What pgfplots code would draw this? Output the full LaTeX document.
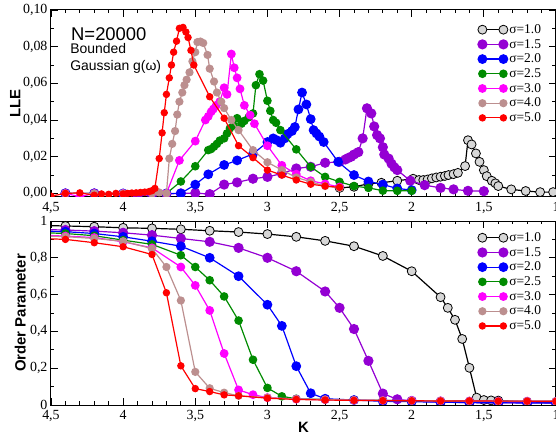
\documentclass[border=0pt]{standalone}
\usepackage{fontspec}
\setmainfont{Liberation Serif}
\setsansfont{Liberation Sans}
\usepackage{pgfplots}
\pgfplotsset{compat=1.18}
\definecolor{cgray}{RGB}{215,215,215}
\definecolor{cpurp}{RGB}{148,0,211}
\definecolor{cblue}{RGB}{0,0,255}
\definecolor{cgreen}{RGB}{0,139,0}
\definecolor{cmag}{RGB}{255,0,255}
\definecolor{cbrown}{RGB}{188,143,143}
\definecolor{cred}{RGB}{255,0,0}
\pgfplotsset{
  common/.style={
    scale only axis, width=505bp,
    xmin=1, xmax=4.5, x dir=reverse,
    xtick={1,1.5,...,4.5}, minor x tick num=4,
    major tick length=7bp, minor tick length=3.5bp,
    tick align=inside, tick style={black, line width=0.8pt},
    axis line style={line width=1pt},
    /pgf/number format/assume math mode=true,
    /pgf/number format/use comma, /pgf/number format/1000 sep={},
    tick label style={font=\fontsize{14}{16}\selectfont},
    xticklabel style={yshift=-2bp},
    clip marker paths=true,
    every axis plot/.append style={line width=1.2pt},
    legend cell align=left,
    legend style={draw=none, fill=none, font=\fontsize{13.5}{15}\selectfont, inner sep=0pt, row sep=0pt, anchor=north west,
      nodes={inner sep=1.5bp, text height=9.5bp, text depth=2.2bp}},
    legend image code/.code={\draw[mark repeat=1,mark phase=1,#1] plot coordinates {(0bp,0bp) (21bp,0bp)};},
  },
  sg/.style={black, mark=*, mark size=4.5pt, mark options={fill=cgray, draw=black, line width=0.8pt}},
  sp/.style={cpurp, mark=*, mark size=4.5pt, mark options={fill=cpurp}},
  sb/.style={cblue, mark=*, mark size=4.3pt, mark options={fill=cblue}},
  sgr/.style={cgreen, mark=*, mark size=3.7pt, mark options={fill=cgreen}},
  sm/.style={cmag, mark=*, mark size=3.8pt, mark options={fill=cmag}},
  sbr/.style={cbrown, mark=*, mark size=3.5pt, mark options={fill=cbrown}},
  sr/.style={cred, mark=*, mark size=3.1pt, mark options={fill=cred}},
}
\begin{document}
\begin{tikzpicture}
\begin{axis}[common, name=top, at={(51bp,241.3bp)}, anchor=south west, height=186.7bp,
  ymin=-0.0018, ymax=0.1, ytick={0,0.02,...,0.1}, minor y tick num=1,
  yticklabel style={/pgf/number format/fixed, /pgf/number format/fixed zerofill, /pgf/number format/precision=2},
  ylabel={\sffamily\bfseries LLE}, ylabel style={font=\fontsize{15}{17}\selectfont, at={(axis description cs:-0.071,0.5)}, anchor=center},
  legend style={at={(axis description cs:0.845,0.935)}},
]
\addplot[sg] coordinates {
(2.5,0.0030)(2.4,0.0036)(2.3,0.0052)(2.21,0.0058)(2.10,0.0069)(1.99,0.0080)(1.95,0.0073)(1.92,0.0073)(1.89,0.0076)(1.86,0.0082)(1.83,0.0087)(1.80,0.0091)(1.77,0.0095)(1.745,0.0100)(1.71,0.0105)(1.68,0.0112)(1.63,0.0149)(1.61,0.0290)(1.585,0.0267)(1.555,0.0218)(1.53,0.0172)(1.50,0.0127)(1.48,0.0094)(1.445,0.0069)(1.42,0.0055)(1.40,0.0040)(1.31,0.0022)(1.21,0.0013)(1.11,0.0007)(1.02,0.0007)(0.95,0.0006)
};
\addlegendentry{σ=1.0}
\addplot[sp] coordinates {
(4.4,0.0)(4.2,0.0)(4.0,-0.0005)(3.9,-0.0012)(3.8,-0.0008)(3.7,-0.0003)(3.6,0.0)(3.5,0.0002)(3.4,-0.0004)(3.3,0.0048)(3.21,0.0060)(3.10,0.0080)(3.0,0.0090)(2.9,0.0108)(2.8,0.0136)(2.7,0.0145)(2.6,0.0167)(2.5,0.0172)(2.46,0.0185)(2.44,0.0193)(2.42,0.0200)(2.40,0.0212)(2.37,0.0225)(2.34,0.0300)(2.31,0.0464)(2.28,0.0436)(2.26,0.0365)(2.24,0.0318)(2.22,0.0300)(2.20,0.0252)(2.19,0.0212)(2.16,0.0190)(2.14,0.0162)(2.12,0.0142)(2.10,0.0127)(2.01,0.0069)(1.91,0.0045)(1.80,0.0030)(1.71,0.0022)(1.61,0.0014)(1.50,0.0012)
};
\addlegendentry{σ=1.5}
\addplot[sb] coordinates {
(4.4,0.0)(4.2,0.0)(4.0,0.0)(3.8,0.0)(3.7,0.0)(3.6,0.0)(3.5,0.0048)(3.41,0.0104)(3.30,0.0155)(3.21,0.0180)(3.10,0.0215)(3.0,0.0280)(2.96,0.0300)(2.94,0.0292)(2.91,0.0276)(2.88,0.0300)(2.86,0.0324)(2.83,0.0340)(2.81,0.0362)(2.785,0.0458)(2.76,0.0550)(2.73,0.0485)(2.70,0.0405)(2.68,0.0345)(2.66,0.0327)(2.64,0.0310)(2.61,0.0280)(2.51,0.0172)(2.40,0.0100)(2.30,0.0065)(2.20,0.0048)(2.10,0.0027)(2.0,0.0018)
};
\addlegendentry{σ=2.0}
\addplot[sgr] coordinates {
(4.4,0.0)(4.2,0.0)(4.0,0.0)(3.8,0.0)(3.7,0.0)(3.6,0.0065)(3.5,0.0148)(3.41,0.0236)(3.39,0.0242)(3.37,0.0255)(3.35,0.0270)(3.33,0.0288)(3.30,0.0300)(3.28,0.0327)(3.26,0.0355)(3.235,0.0370)(3.21,0.0410)(3.18,0.0380)(3.16,0.0395)(3.13,0.0415)(3.10,0.0436)(3.08,0.0590)(3.055,0.0650)(3.03,0.0615)(3.0,0.0505)(2.98,0.0450)(2.96,0.0400)(2.94,0.0385)(2.91,0.0345)(2.8,0.0240)(2.7,0.0145)(2.6,0.0090)(2.5,0.0063)(2.4,0.0040)(2.3,0.0030)(2.2,0.0015)(2.1,0.0014)(2.0,0.0014)
};
\addlegendentry{σ=2.5}
\addplot[sm] coordinates {
(4.4,0.0)(4.3,-0.0018)(4.2,0.0)(4.0,0.0)(3.8,0.0)(3.7,0.0)(3.61,0.0180)(3.50,0.0285)(3.43,0.0400)(3.41,0.0420)(3.39,0.0445)(3.375,0.0460)(3.355,0.0480)(3.33,0.0500)(3.30,0.0576)(3.28,0.0540)(3.25,0.0760)(3.23,0.0685)(3.21,0.0630)(3.19,0.0570)(3.16,0.0480)(3.12,0.0427)(3.09,0.0380)(3.0,0.0260)(2.9,0.0153)(2.8,0.0105)(2.7,0.0069)(2.6,0.0052)(2.5,0.0035)
};
\addlegendentry{σ=3.0}
\addplot[sbr] coordinates {
(4.4,0.0)(4.2,0.0)(4.0,0.0)(3.8,0.0)(3.75,0.0005)(3.70,0.0)(3.68,0.0190)(3.66,0.0270)(3.64,0.0340)(3.625,0.0430)(3.61,0.0500)(3.59,0.0550)(3.575,0.0590)(3.56,0.0620)(3.54,0.0660)(3.52,0.0720)(3.50,0.0770)(3.485,0.0825)(3.465,0.0828)(3.445,0.0820)(3.415,0.0755)(3.40,0.0680)(3.37,0.0610)(3.35,0.0550)(3.32,0.0500)(3.30,0.0465)(3.25,0.0400)(3.20,0.0345)(3.10,0.0236)(3.0,0.0170)(2.9,0.0127)(2.8,0.0087)(2.7,0.0063)(2.6,0.0040)(2.5,0.0030)
};
\addlegendentry{σ=4.0}
\addplot[sr] coordinates {
(4.5,-0.0015)(4.4,0.0)(4.3,0.0003)(4.2,-0.0010)(4.15,-0.0003)(4.10,-0.0005)(4.05,0.0)(4.00,-0.0003)(3.97,0.0)(3.94,0.0002)(3.91,0.0003)(3.88,0.0005)(3.85,0.0007)(3.82,0.0010)(3.80,0.0015)(3.78,0.0027)(3.75,0.0190)(3.73,0.0330)(3.715,0.0440)(3.70,0.0540)(3.68,0.0630)(3.665,0.0700)(3.65,0.0770)(3.63,0.0830)(3.61,0.0900)(3.585,0.0905)(3.565,0.0880)(3.55,0.0850)(3.53,0.0780)(3.51,0.0700)(3.40,0.0527)(3.30,0.0410)(3.20,0.0260)(3.10,0.0195)(3.00,0.0127)(2.90,0.0100)(2.80,0.0073)(2.70,0.0050)(2.60,0.0040)(2.50,0.0033)
};
\addlegendentry{σ=5.0}
\node[anchor=west, font=\sffamily\fontsize{18.5}{20}\selectfont] at (axis description cs:0.033,0.872) {N=20000};
\node[anchor=north west, align=left, font=\sffamily\fontsize{14}{17}\selectfont, inner sep=0pt] at (axis description cs:0.038,0.82) {Bounded\\Gaussian g(ω)};
\end{axis}
\begin{axis}[common, name=bot, at={(51bp,33bp)}, anchor=south west, height=184bp,
  ymin=0, ymax=1, ytick={0,0.2,...,1}, minor y tick num=1,
  ylabel={\sffamily\bfseries Order Parameter}, ylabel style={font=\fontsize{15}{17}\selectfont, at={(axis description cs:-0.061,0.5)}, anchor=center},
  xlabel={\sffamily\bfseries K}, xlabel style={font=\fontsize{15}{17}\selectfont, at={(axis description cs:0.5,-0.122)}, anchor=center},
  legend style={at={(axis description cs:0.845,0.95)}},
]
\addplot[sg] coordinates {
(4.6,0.976)(4.4,0.973)(4.2,0.969)(4.0,0.963)(3.8,0.960)(3.6,0.955)(3.4,0.947)(3.2,0.940)(3.0,0.929)(2.8,0.914)(2.6,0.892)(2.4,0.863)(2.2,0.810)(2.0,0.727)(1.8,0.586)(1.75,0.528)(1.7,0.463)(1.65,0.359)(1.6,0.202)(1.55,0.040)(1.5,0.027)(1.45,0.025)(1.4,0.024)(1.2,0.016)(1.0,0.013)
};
\addlegendentry{σ=1.0}
\addplot[sp] coordinates {
(4.6,0.954)(4.4,0.951)(4.2,0.945)(4.0,0.936)(3.8,0.923)(3.6,0.905)(3.4,0.887)(3.2,0.854)(3.0,0.800)(2.8,0.727)(2.6,0.617)(2.5,0.528)(2.4,0.413)(2.3,0.240)(2.2,0.062)(2.1,0.031)(2.0,0.022)(1.8,0.016)(1.6,0.013)(1.4,0.012)(1.2,0.012)(1.0,0.011)
};
\addlegendentry{σ=1.5}
\addplot[sb] coordinates {
(4.6,0.946)(4.4,0.942)(4.2,0.932)(4.0,0.914)(3.8,0.890)(3.6,0.863)(3.4,0.800)(3.2,0.700)(3.0,0.545)(2.9,0.430)(2.8,0.211)(2.7,0.064)(2.6,0.034)(2.4,0.027)(2.2,0.020)(2.0,0.018)(1.8,0.015)(1.6,0.013)(1.4,0.012)(1.2,0.011)(1.0,0.011)
};
\addlegendentry{σ=2.0}
\addplot[sgr] coordinates {
(4.6,0.938)(4.4,0.932)(4.2,0.920)(4.0,0.896)(3.8,0.873)(3.6,0.814)(3.5,0.750)(3.4,0.678)(3.3,0.590)(3.2,0.459)(3.1,0.246)(3.0,0.093)(2.9,0.047)(2.8,0.034)(2.6,0.030)(2.4,0.027)(2.2,0.025)(2.0,0.023)(1.8,0.022)(1.6,0.021)(1.4,0.021)(1.2,0.020)(1.0,0.020)
};
\addlegendentry{σ=2.5}
\addplot[sm] coordinates {
(4.6,0.924)(4.4,0.918)(4.2,0.910)(4.0,0.887)(3.8,0.854)(3.6,0.750)(3.5,0.650)(3.4,0.514)(3.3,0.280)(3.2,0.082)(3.1,0.056)(3.0,0.040)(2.8,0.032)(2.6,0.029)(2.4,0.026)(2.2,0.025)(2.0,0.024)(1.8,0.023)(1.6,0.022)(1.4,0.021)(1.2,0.021)(1.0,0.020)
};
\addlegendentry{σ=3.0}
\addplot[sbr] coordinates {
(4.6,0.920)(4.4,0.915)(4.2,0.905)(4.0,0.890)(3.8,0.850)(3.7,0.750)(3.6,0.568)(3.5,0.180)(3.4,0.091)(3.3,0.067)(3.2,0.050)(3.0,0.040)(2.8,0.032)(2.6,0.029)(2.4,0.026)(2.2,0.025)(2.0,0.024)(1.8,0.023)(1.6,0.022)(1.4,0.021)(1.2,0.021)(1.0,0.020)
};
\addlegendentry{σ=4.0}
\addplot[sr] coordinates {
(4.6,0.906)(4.4,0.900)(4.2,0.882)(4.0,0.860)(3.8,0.818)(3.7,0.610)(3.6,0.213)(3.5,0.089)(3.4,0.073)(3.3,0.055)(3.2,0.050)(3.0,0.037)(2.8,0.030)(2.6,0.027)(2.4,0.025)(2.2,0.024)(2.0,0.023)(1.8,0.022)(1.6,0.022)(1.4,0.021)(1.2,0.021)(1.0,0.020)
};
\addlegendentry{σ=5.0}
\end{axis}
\pgfresetboundingbox
\useasboundingbox (0,0) rectangle (556bp,438bp);
\end{tikzpicture}
\end{document}
